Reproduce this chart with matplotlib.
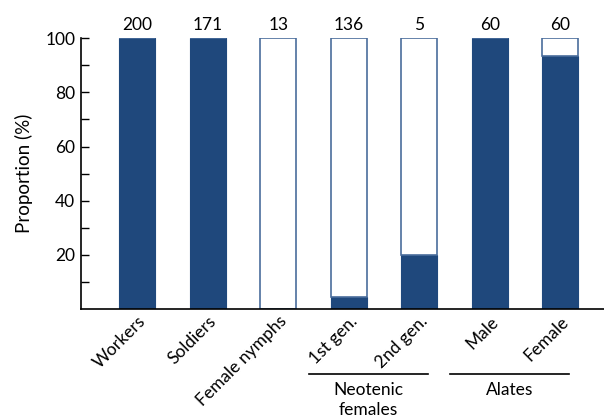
import matplotlib.pyplot as plt
from matplotlib.transforms import blended_transform_factory

plt.rcParams['font.family'] = ['Lato', 'DejaVu Sans']

# kategorije i udio (%) tamnog dijela
categories = ['Workers', 'Soldiers', 'Female nymphs', '1st gen.', '2nd gen.', 'Male', 'Female']
counts = [200, 171, 13, 136, 5, 60, 60]
dark_pct = [100, 100, 0, 4.4, 20, 100, 93.3]
light_pct = [100 - v for v in dark_pct]

groups = ['Neotenic\nfemales', 'Alates']
group_members = [(3, 4), (5, 6)]

dark = '#1f487c'
edge = '#4a6d9c'

fig = plt.figure(figsize=(6.04, 4.2), dpi=100)
ax = fig.add_axes([0.134, 0.264, 0.866, 0.645])

x = list(range(len(categories)))
ax.bar(x, dark_pct, width=0.51, color=dark, edgecolor=dark, linewidth=0.8)
ax.bar(x, light_pct, width=0.51, bottom=dark_pct, color='white', edgecolor=edge, linewidth=1.2)

for xi, n in zip(x, counts):
    ax.text(xi, 101.8, str(n), ha='center', va='bottom', fontsize=12.5)

ax.set_xlim(-0.8, 6.62)
ax.set_ylim(0, 100)
ax.set_yticks([20, 40, 60, 80, 100])
ax.set_yticks([10, 30, 50, 70, 90], minor=True)
ax.tick_params(axis='y', which='both', direction='in', length=6, width=1, labelsize=12.5, pad=4)
ax.set_xticks(x)
ax.set_xticklabels(categories, rotation=45, ha='right', rotation_mode='anchor', fontsize=12.5)
ax.tick_params(axis='x', length=0, pad=3)
ax.set_ylabel('Proportion (%)', fontsize=13.5, labelpad=9)

for s in ['top', 'right']:
    ax.spines[s].set_visible(False)
ax.spines['left'].set_linewidth(1.2)
ax.spines['bottom'].set_linewidth(1.2)

tr = blended_transform_factory(ax.transData, ax.transAxes)
for label, (a, b) in zip(groups, group_members):
    ax.plot([a - 0.57, b + 0.13], [-0.24, -0.24], color='black', lw=1.2,
            transform=tr, clip_on=False)
    ax.text((a + b) / 2 - 0.22, -0.27, label, transform=tr, ha='center', va='top',
            fontsize=12.5, linespacing=1.25)

fig.savefig('out.png', dpi=100)
